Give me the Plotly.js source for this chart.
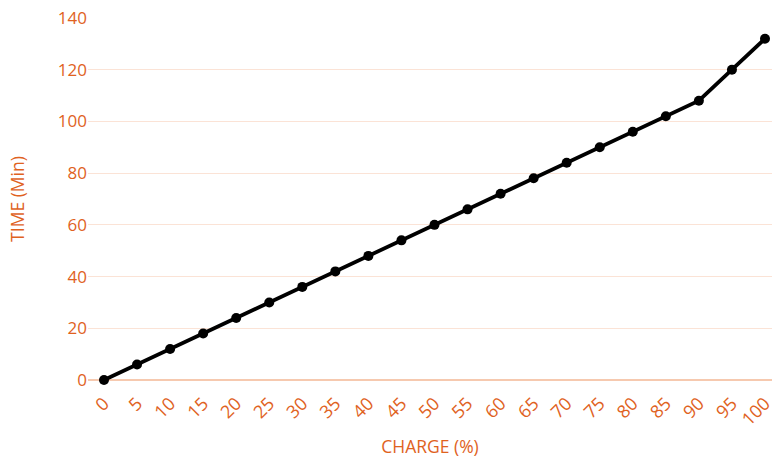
<!DOCTYPE html>
<html><head><meta charset="utf-8">
<script src="https://cdn.plot.ly/plotly-3.0.1.min.js"></script>
<style>html,body{margin:0;padding:0;background:#fff}</style>
</head><body><div id="chart" style="width:772px;height:458px"></div>
<script>
const charge = [0,5,10,15,20,25,30,35,40,45,50,55,60,65,70,75,80,85,90,95,100];
const timeMin = [0,6,12,18,24,30,36,42,48,54,60,66,72,78,84,90,96,102,108,120,132];
const tickLabels = charge.map(String);
const orange = '#E0621E';
const font = {family: '"Open Sans", sans-serif', size: 17, color: orange};
const xTickFont = {family: '"Open Sans", sans-serif', size: 18, color: orange};
const titleFont = {family: '"Open Sans", sans-serif', size: 17.5, color: orange};
Plotly.newPlot('chart', [{
  x: charge, y: timeMin, type: 'scatter', mode: 'lines+markers',
  line: {color: '#000', width: 3.8}, marker: {color: '#000', size: 10},
  cliponaxis: false, hoverinfo: 'skip'
}], {
  width: 772, height: 458,
  margin: {l: 88, r: 0, t: 18, b: 78},
  paper_bgcolor: '#fff', plot_bgcolor: '#fff',
  font: font, showlegend: false,
  xaxis: {range: [-2.42, 101.06], tickvals: charge, ticktext: tickLabels, tickangle: -45,
    showgrid: false, zeroline: false, showline: false, ticks: 'outside', ticklen: 5,
    tickcolor: 'rgba(0,0,0,0)', tickfont: xTickFont,
    ticklabeloverflow: 'allow', automargin: false,
    title: {text: 'CHARGE (%)', font: titleFont, standoff: 24}},
  yaxis: {range: [0, 140], dtick: 20, gridcolor: '#FBE3D6', gridwidth: 1,
    zeroline: true, zerolinecolor: '#F6C9AF', zerolinewidth: 1.5, showline: false, ticks: '',
    ticklen: 0, tickfont: font, automargin: false, title: {text: 'TIME (Min)', font: titleFont, standoff: 28}}
}, {staticPlot: true});
</script></body></html>
